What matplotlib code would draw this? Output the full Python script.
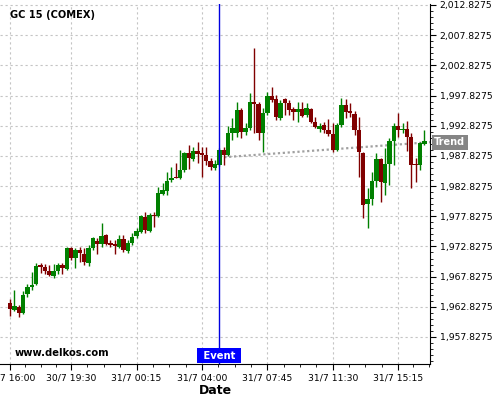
import numpy as np
import matplotlib
matplotlib.use("Agg")
import matplotlib.pyplot as plt
from matplotlib.ticker import FuncFormatter, AutoMinorLocator

# 15 minute candles, GC 15 (COMEX)
opens = [1963.46, 1962.30, 1962.80, 1961.80, 1964.95, 1966.11, 1966.61, 1969.75, 1969.42, 1968.76,
         1967.93, 1968.76, 1969.75, 1969.09, 1972.57, 1970.91, 1972.24, 1971.58, 1970.08, 1972.57,
         1973.73, 1973.23, 1974.72, 1973.40, 1973.23, 1972.74, 1974.06, 1972.07, 1973.40, 1974.56,
         1975.22, 1977.71, 1975.39, 1978.04, 1977.87, 1981.52, 1982.01, 1983.84, 1984.33, 1984.17,
         1985.49, 1988.31, 1987.31, 1988.64, 1988.31, 1987.98, 1986.98, 1985.82, 1986.32, 1988.81,
         1987.98, 1991.62, 1991.62, 1995.43, 1991.79, 1992.45, 1996.76, 1996.43, 1991.62, 1994.94,
         1997.75, 1997.26, 1994.11, 1997.26, 1996.59, 1995.60, 1995.10, 1995.60, 1994.60, 1995.60,
         1993.44, 1992.28, 1992.95, 1992.12, 1991.46, 1988.81, 1992.95, 1996.26, 1995.27, 1994.77,
         1992.12, 1988.31, 1979.86, 1980.69, 1983.67, 1987.31, 1983.34, 1986.49, 1990.30, 1992.78,
         1992.12, 1992.28, 1990.96, 1986.49, 1986.32, 1989.80]
highs = [1964.12, 1965.61, 1963.13, 1965.45, 1966.61, 1968.59, 1970.08, 1970.08, 1969.92, 1969.75,
         1969.92, 1970.08, 1970.08, 1972.74, 1972.74, 1972.57, 1972.74, 1972.57, 1973.07, 1974.39,
         1974.23, 1976.71, 1974.89, 1973.90, 1973.90, 1974.72, 1974.72, 1973.90, 1975.06, 1975.88,
         1978.04, 1978.53, 1978.37, 1978.53, 1982.68, 1983.34, 1985.16, 1985.99, 1986.65, 1988.81,
         1988.47, 1989.63, 1989.30, 1990.13, 1989.30, 1989.30, 1987.48, 1987.15, 1989.14, 1989.30,
         1992.78, 1994.11, 1996.76, 1995.76, 1993.28, 1998.25, 2005.70, 1996.76, 1995.76, 1998.41,
         1999.24, 1997.92, 1997.09, 1997.42, 1997.09, 1995.93, 1996.76, 1996.76, 1996.59, 1995.76,
         1994.27, 1993.28, 1993.44, 1993.94, 1993.28, 1993.28, 1997.42, 1997.26, 1996.59, 1995.27,
         1994.27, 1988.47, 1982.51, 1985.16, 1988.31, 1987.48, 1989.14, 1990.79, 1993.28, 1994.94,
         1993.28, 1993.61, 1991.62, 1987.48, 1990.13, 1992.12]
lows = [1961.30, 1962.13, 1961.14, 1961.64, 1964.45, 1965.61, 1966.44, 1968.43, 1968.26, 1967.93,
        1967.60, 1968.26, 1968.26, 1968.93, 1970.58, 1969.26, 1970.25, 1969.75, 1969.59, 1972.24,
        1971.58, 1972.74, 1973.07, 1972.74, 1971.58, 1972.57, 1971.91, 1971.74, 1973.07, 1974.23,
        1975.06, 1975.06, 1975.22, 1976.05, 1977.71, 1981.35, 1981.35, 1983.50, 1984.17, 1984.00,
        1985.16, 1985.66, 1986.98, 1986.65, 1984.33, 1986.32, 1985.49, 1985.49, 1986.15, 1986.32,
        1987.81, 1990.46, 1990.96, 1990.79, 1991.29, 1992.12, 1991.62, 1990.46, 1988.47, 1994.60,
        1996.76, 1993.78, 1993.78, 1994.60, 1994.60, 1993.78, 1993.44, 1994.27, 1994.27, 1993.28,
        1992.45, 1991.79, 1991.62, 1991.13, 1988.47, 1988.64, 1992.62, 1994.11, 1994.27, 1991.29,
        1984.33, 1977.54, 1975.88, 1979.69, 1982.68, 1980.19, 1981.35, 1983.01, 1986.32, 1990.96,
        1991.62, 1988.64, 1982.51, 1983.50, 1985.49, 1989.63]
closes = [1962.46, 1962.96, 1961.80, 1964.78, 1966.11, 1966.44, 1969.59, 1969.42, 1968.76, 1968.10,
          1968.76, 1969.75, 1969.26, 1972.57, 1970.91, 1972.24, 1971.74, 1970.25, 1972.57, 1974.23,
          1973.23, 1974.56, 1973.23, 1973.07, 1972.90, 1974.06, 1972.24, 1973.40, 1974.39, 1975.39,
          1977.87, 1975.55, 1978.04, 1977.87, 1981.68, 1982.18, 1983.67, 1984.17, 1984.17, 1985.49,
          1988.31, 1987.48, 1988.64, 1988.14, 1987.98, 1986.98, 1985.99, 1986.49, 1988.81, 1987.98,
          1991.62, 1992.45, 1995.43, 1991.79, 1992.45, 1996.76, 1996.43, 1991.62, 1994.94, 1997.75,
          1997.09, 1994.27, 1996.59, 1996.59, 1995.43, 1995.10, 1995.60, 1994.44, 1995.76, 1993.44,
          1992.62, 1992.78, 1992.12, 1991.46, 1988.81, 1992.95, 1996.26, 1995.10, 1994.94, 1992.12,
          1988.47, 1979.69, 1980.69, 1983.67, 1987.31, 1983.50, 1986.49, 1990.30, 1992.78, 1992.12,
          1992.28, 1990.96, 1986.32, 1986.32, 1989.97, 1990.30]

tick_idx = [0, 14, 29, 44, 59, 74, 89]
tick_labels = ["30/7 16:00", "30/7 19:30", "31/7 00:15", "31/7 04:00",
               "31/7 07:45", "31/7 11:30", "31/7 15:15"]

event_idx = 48
trend_start = 1987.55
trend_end = 1990.10

green = "#008000"
red = "#800000"

fig = plt.figure(figsize=(5, 4), dpi=100)
ax = fig.add_axes([0.0, 0.09, 0.86, 0.90])

x = np.arange(len(opens))
o = np.array(opens)
c = np.array(closes)
up = c >= o
colors = np.where(up, green, red)

# wicks + bodies
ax.vlines(x, lows, highs, colors=colors, lw=1, zorder=3)
bottoms = np.minimum(o, c)
heights = np.maximum(np.abs(c - o), 0.17)
ax.bar(x, heights, bottom=bottoms, width=1.0, color=colors, zorder=4, linewidth=0)

xmin, xmax = -2.3, 96.3
ax.set_xlim(xmin, xmax)
ax.set_ylim(1953.35, 2012.99)

# event marker
ax.axvline(event_idx, color="#0000e0", lw=1, zorder=5)
ax.annotate(" Event ", xy=(event_idx, 0), xycoords=("data", "axes fraction"),
            xytext=(0, 2.2), textcoords="offset points", ha="center", va="bottom",
            color="white", fontsize=7.2, fontweight="bold", zorder=6,
            bbox=dict(boxstyle="square,pad=0.25", fc="#0000ff", ec="none"))

# trend line
ax.plot([event_idx, xmax], [trend_start, trend_end], color="#a0a0a0",
        lw=1.6, linestyle=(0, (1, 1.2)), zorder=2)
ax.annotate("Trend", xy=(1.0, trend_end), xycoords=("axes fraction", "data"),
            xytext=(3, 0), textcoords="offset points", ha="left", va="center",
            color="white", fontsize=7, fontweight="bold", annotation_clip=False,
            bbox=dict(boxstyle="square,pad=0.25", fc="#858585", ec="none"))

# axes
ax.set_xticks(tick_idx)
ax.set_xticklabels(tick_labels)
minor = []
for a, b in zip(tick_idx[:-1], tick_idx[1:]):
    minor += list(np.linspace(a, b, 5)[1:-1])
minor += [tick_idx[-1] + 3.5, tick_idx[-1] + 7]
ax.set_xticks(minor, minor=True)

ax.set_yticks(np.arange(1957.8275, 2013, 5))
ax.yaxis.set_minor_locator(AutoMinorLocator(5))
ax.yaxis.set_major_formatter(FuncFormatter(lambda v, p: f"{v:,.4f}"))
ax.yaxis.tick_right()

ax.tick_params(which="major", length=4, labelsize=6.7, pad=3)
ax.tick_params(which="minor", length=2)
ax.spines["left"].set_visible(False)
ax.spines["top"].set_visible(False)

ax.grid(True, which="major", linestyle=(0, (2, 2.5)), color="#c4c4c4", lw=0.8)
ax.set_axisbelow(True)

ax.set_xlabel("Date", fontsize=9, fontweight="bold", labelpad=1)

ax.text(0.023, 0.969, "GC 15 (COMEX)", transform=ax.transAxes, fontsize=7.1,
        fontweight="bold", va="center", ha="left")
ax.text(0.035, 0.03, "www.delkos.com", transform=ax.transAxes, fontsize=7.2,
        fontweight="bold", va="center", ha="left")

plt.savefig("out.png", dpi=100)
